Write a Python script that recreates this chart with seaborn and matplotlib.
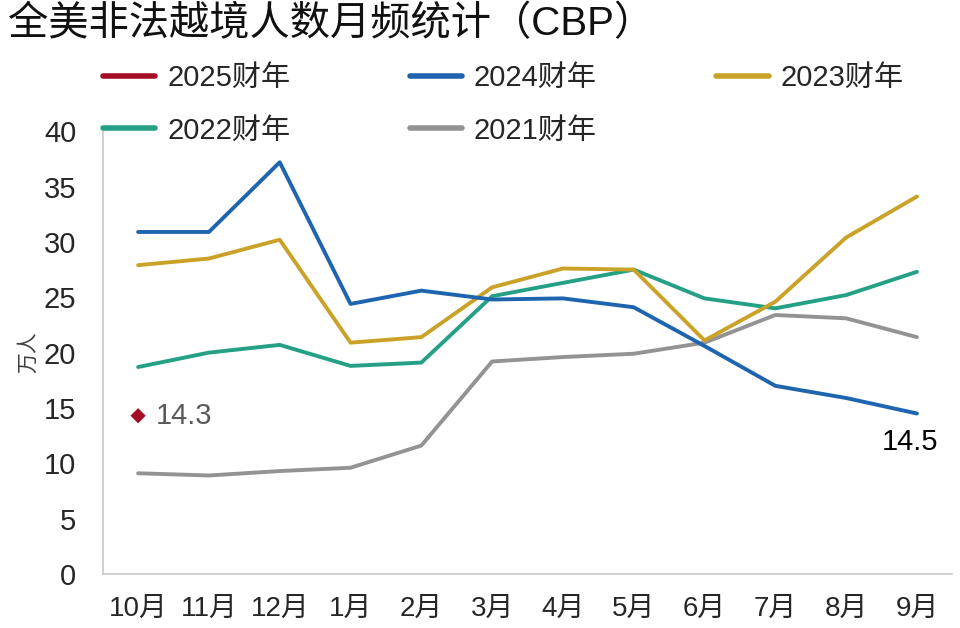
import matplotlib

matplotlib.use("Agg")
import matplotlib.pyplot as plt
from matplotlib.lines import Line2D
import pandas as pd
import seaborn as sns

months = ["10月", "11月", "12月", "1月", "2月", "3月", "4月", "5月", "6月", "7月", "8月", "9月"]
fy2024 = [30.9, 30.9, 37.2, 24.4, 25.6, 24.8, 24.9, 24.1, 20.6, 17.0, 15.9, 14.5]
fy2023 = [27.9, 28.5, 30.2, 20.9, 21.4, 25.9, 27.6, 27.5, 21.1, 24.6, 30.4, 34.1]
fy2022 = [18.7, 20.0, 20.7, 18.8, 19.1, 25.1, 26.3, 27.5, 24.9, 24.0, 25.2, 27.3]
fy2021 = [9.1, 8.9, 9.3, 9.6, 11.6, 19.2, 19.6, 19.9, 20.9, 23.4, 23.1, 21.4]
fy2025 = [14.3]

years = ["2025财年", "2024财年", "2023财年", "2022财年", "2021财年"]
colors = {
    "2025财年": "#A30E24",
    "2024财年": "#1F64AE",
    "2023财年": "#C9A227",
    "2022财年": "#24A085",
    "2021财年": "#939393",
}

series = {"2024财年": fy2024, "2023财年": fy2023, "2022财年": fy2022, "2021财年": fy2021}
rows = []
for name, vals in series.items():
    for i, v in enumerate(vals):
        rows.append({"year": name, "idx": i, "val": v})
df = pd.DataFrame(rows)
df25 = pd.DataFrame({"idx": list(range(len(fy2025))), "val": fy2025})

sns.set_style("white")
plt.rcParams["font.family"] = ["Liberation Sans", "Noto Sans CJK SC", "DejaVu Sans"]

fig = plt.figure(figsize=(9.6, 6.28), dpi=100)
ax = fig.add_axes([0.107, 0.086, 0.885, 0.705])

# older years first so 2024 ends up on top
for name in ["2021财年", "2022财年", "2023财年", "2024财年"]:
    sns.lineplot(data=df[df["year"] == name], x="idx", y="val", color=colors[name],
                 linewidth=2.8, ax=ax, legend=False)
sns.scatterplot(data=df25, x="idx", y="val", color=colors["2025财年"], marker="D",
                s=60, edgecolor="none", ax=ax, legend=False, zorder=5)

ax.text(0.25, fy2025[0], f"{fy2025[0]}", fontsize=21, color="#595959", va="center", ha="left")
ax.text(11.3, fy2024[-1] - 2.6, f"{fy2024[-1]}", fontsize=21, color="black", va="center", ha="right")

ax.set_xlim(-0.5, 11.5)
ax.set_ylim(0, 40)
ax.set_yticks(range(0, 41, 5))
ax.set_xticks([i - 0.5 for i in range(13)])
ax.set_xticklabels([])
ax.set_xticks(range(12), minor=True)
ax.set_xticklabels(months, minor=True)
ax.tick_params(axis="x", which="minor", length=0, pad=16, labelsize=20)
ax.tick_params(axis="x", which="major", direction="out", length=7, width=1.2, color="#C8C8C8")
ax.tick_params(axis="y", direction="out", length=7, width=1.2, color="#C8C8C8", pad=12, labelsize=21)
ax.set_xlabel("")
ax.set_ylabel("万人", fontsize=15, color="#404040", labelpad=4)

for s in ["top", "right"]:
    ax.spines[s].set_visible(False)
for s in ["left", "bottom"]:
    ax.spines[s].set_color("#C8C8C8")
    ax.spines[s].set_linewidth(1.2)

# legend fills column-wise, so reorder to get the row-wise layout of the original
order = ["2025财年", "2022财年", "2024财年", "2021财年", "2023财年"]
handles = [Line2D([0], [0], color=colors[y], linewidth=4, solid_capstyle="round") for y in order]
fig.legend(handles, order, loc="upper left", bbox_to_anchor=(0.095, 0.917), ncol=3,
           frameon=False, fontsize=21, handlelength=1.8, handletextpad=0.4,
           columnspacing=4.1, labelspacing=0.85, borderaxespad=0)

fig.text(0.008, 0.962, "全美非法越境人数月频统计（CBP）", fontsize=29, va="center", ha="left",
         color="#111111")

fig.savefig("out.png", dpi=100)
